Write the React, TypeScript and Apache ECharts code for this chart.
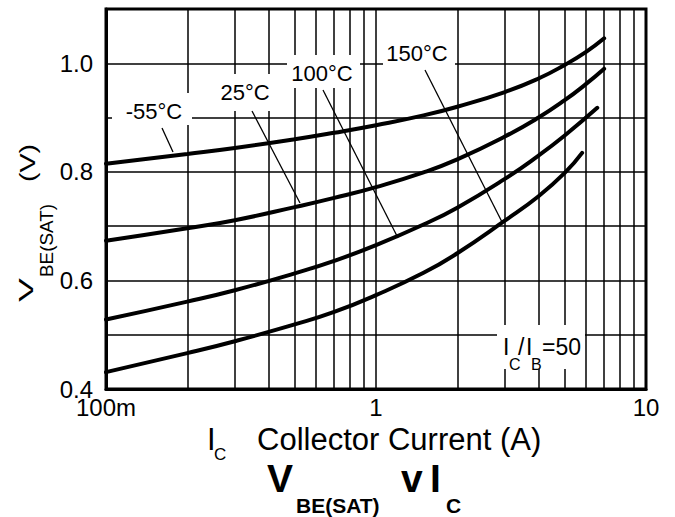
import React, { useEffect, useRef } from "react";
import * as echarts from "echarts";

// ---- Data ----
const currentsM55 = [0.1, 0.2, 0.3, 0.5, 0.7, 1, 1.5, 2, 3, 4, 5, 6, 7];
const vbeM55 = [0.815, 0.833, 0.844, 0.86, 0.872, 0.886, 0.904, 0.92, 0.947, 0.972, 0.997, 1.021, 1.046];

const currents25 = [0.1, 0.2, 0.3, 0.5, 0.7, 1, 1.5, 2, 3, 4, 5, 6, 7];
const vbe25 = [0.673, 0.696, 0.711, 0.735, 0.752, 0.772, 0.799, 0.823, 0.865, 0.9, 0.932, 0.962, 0.99];

const currents100 = [0.1, 0.2, 0.3, 0.5, 0.7, 1, 1.5, 2, 3, 4, 5, 6.6];
const vbe100 = [0.528, 0.561, 0.582, 0.613, 0.636, 0.665, 0.703, 0.734, 0.787, 0.83, 0.867, 0.918];

const currents150 = [0.1, 0.2, 0.3, 0.5, 0.7, 1, 1.5, 2, 3, 4, 5, 5.8];
const vbe150 = [0.431, 0.466, 0.488, 0.519, 0.542, 0.573, 0.614, 0.65, 0.71, 0.755, 0.798, 0.835];

const seriesNames = ["-55°C", "25°C", "100°C", "150°C"];
const minorGridCurrents = [0.2, 0.3, 0.4, 0.5, 0.6, 0.7, 0.8, 0.9, 2, 3, 4, 5, 6, 7, 8, 9];
const xTickLabels: Record<string, string> = { "0.1": "100m", "1": "1", "10": "10" };
const yLabeledTicks = ["0.4", "0.6", "0.8", "1.0"];

const FONT = "'Liberation Sans', Arial, Helvetica, sans-serif";

function pairs(xs: number[], ys: number[]) {
  return xs.map((x, i) => [x, ys[i]]);
}

function txt(
  text: string,
  x: number,
  y: number,
  size: number,
  opts: { bold?: boolean; align?: string; scaleX?: number } = {}
): any {
  const align = opts.align || "left";
  return {
    type: "text",
    x,
    y,
    z: 102,
    scaleX: opts.scaleX || 1,
    style: {
      text,
      fontSize: size,
      fontFamily: FONT,
      fontWeight: opts.bold ? "bold" : "normal",
      fill: "#000",
      align,
      textAlign: align,
      verticalAlign: "middle",
      textVerticalAlign: "middle",
    },
  };
}

function box(x: number, y: number, w: number, h: number): any {
  return { type: "rect", z: 100, shape: { x, y, width: w, height: h }, style: { fill: "#fff" } };
}

function leader(x1: number, y1: number, x2: number, y2: number): any {
  return { type: "line", z: 101, shape: { x1, y1, x2, y2 }, style: { stroke: "#000", lineWidth: 1.3 } };
}

export default function App() {
  const ref = useRef<HTMLDivElement>(null);

  useEffect(() => {
    if (!ref.current) return;
    const chart = echarts.init(ref.current, null, { renderer: "svg" });

    const curveData = [
      pairs(currentsM55, vbeM55),
      pairs(currents25, vbe25),
      pairs(currents100, vbe100),
      pairs(currents150, vbe150),
    ];

    const series: any[] = curveData.map((d, i) => ({
      name: seriesNames[i],
      type: "line",
      data: d,
      smooth: 0.5,
      symbol: "none",
      z: 5,
      lineStyle: { color: "#000", width: 4, cap: "round" },
    }));

    series.push({
      name: "minor-grid",
      type: "line",
      data: [],
      z: 1,
      markLine: {
        silent: true,
        symbol: ["none", "none"],
        label: { show: false },
        animation: false,
        lineStyle: { color: "#000", width: 1.5, type: "solid" },
        emphasis: { disabled: true },
        data: minorGridCurrents.map((v) => ({ xAxis: v })),
      },
    });

    const graphic: any[] = [
      // temperature labels with white boxes and leader lines
      box(112, 93, 80, 32),
      txt(seriesNames[0], 154, 111, 22, { align: "center" }),
      leader(162, 128, 173, 152),

      box(213, 74, 65, 37),
      txt(seriesNames[1], 245, 92, 22, { align: "center" }),
      leader(252, 111, 300, 203),

      box(287, 55, 73, 33),
      txt(seriesNames[2], 322, 73, 22, { align: "center" }),
      leader(323, 90, 398, 238),

      box(383, 38, 72, 31),
      txt(seriesNames[3], 417, 53, 22, { align: "center" }),
      leader(425, 70, 502, 222),

      // IC/IB = 50
      box(497, 325, 88, 44),
      txt("I", 503, 347, 23),
      txt("C", 509, 364, 16),
      txt("/", 518, 347, 23),
      txt("I", 526, 347, 23),
      txt("B", 531, 364, 16),
      txt("=50", 542, 347, 23),

      // x-axis name
      txt("I", 207, 439, 31),
      txt("C", 214, 454, 17),
      txt("Collector Current (A)", 257, 439, 31),

      // title
      txt("V", 267, 478, 39, { bold: true }),
      txt("BE(SAT)", 296, 505, 21, { bold: true }),
      txt("v", 401, 478, 39, { bold: true }),
      txt("I", 430, 478, 39, { bold: true }),
      txt("C", 446, 505, 21, { bold: true }),

      // y-axis name (rotated, reads bottom to top)
      {
        type: "group",
        x: 33,
        y: 302,
        rotation: Math.PI / 2,
        z: 102,
        children: [
          txt("V", 0, -7.4, 21, { scaleX: 1.7 }),
          txt("BE(SAT)", 25, 13.7, 18, { scaleX: 1.05 }),
          txt("(V)", 120, -5.3, 22, { scaleX: 1.3 }),
        ],
      },
    ];

    chart.setOption({
      animation: false,
      backgroundColor: "#fff",
      grid: {
        left: 106,
        right: 29,
        top: 9,
        bottom: 128,
        show: true,
        borderColor: "#000",
        borderWidth: 3,
      },
      xAxis: {
        type: "log",
        logBase: 10,
        min: 0.1,
        max: 10,
        axisLine: { show: true, lineStyle: { color: "#000", width: 3 } },
        axisTick: { show: false },
        axisLabel: {
          color: "#000",
          fontSize: 24,
          fontFamily: FONT,
          margin: 6,
          showMaxLabel: true,
          showMinLabel: true,
          formatter: (v: number) => {
            const key = v < 0.5 ? "0.1" : String(Math.round(v));
            return xTickLabels[key] || "";
          },
        },
        splitLine: { show: true, lineStyle: { color: "#000", width: 1.5 } },
      },
      yAxis: {
        type: "value",
        min: 0.4,
        max: 1.1,
        interval: 0.1,
        axisLine: { show: true, lineStyle: { color: "#000", width: 3 } },
        axisTick: { show: false },
        axisLabel: {
          color: "#000",
          fontSize: 24,
          fontFamily: FONT,
          margin: 13,
          formatter: (v: number) => {
            const s = v.toFixed(1);
            return yLabeledTicks.indexOf(s) >= 0 ? s : "";
          },
        },
        splitLine: { show: true, lineStyle: { color: "#000", width: 1.5 } },
      },
      series,
      graphic,
    });

    return () => chart.dispose();
  }, []);

  return (
    <div
      ref={ref}
      style={{ position: "fixed", left: 0, top: 0, width: 675, height: 517, background: "#fff" }}
    />
  );
}
